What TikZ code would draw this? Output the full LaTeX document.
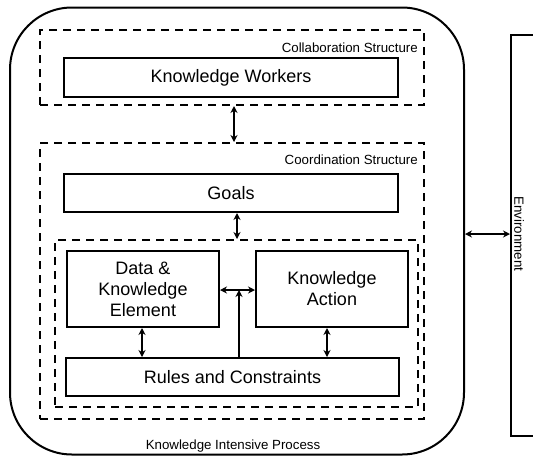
\documentclass[tikz,border=0pt]{standalone}
\usepackage{fontspec}
\setmainfont{Liberation Sans}
\usetikzlibrary{arrows.meta}
\begin{document}
\begin{tikzpicture}[x=1pt,y=-1pt,
  solidbox/.style={draw, line width=2pt, minimum width=#1, inner sep=0pt, align=center,
    font=\fontsize{18}{21}\selectfont},
  dashbox/.style={draw, line width=2pt, dash pattern=on 8pt off 6pt, inner sep=0pt},
  tag/.style={font=\fontsize{13.3}{15}\selectfont, inner sep=0pt},
  arr/.style={line width=1.3pt, {Stealth[length=7pt,width=7pt]}-{Stealth[length=7pt,width=7pt]}},
  onearr/.style={line width=1.1pt, -{Stealth[length=7pt,width=7pt]}}]
\useasboundingbox (0,0) rectangle (533,456);

% process boundary
\node[draw, line width=2pt, rounded corners=62pt, minimum width=454pt, minimum height=447pt,
  inner sep=0pt] (kip) at (237,231) {};
\node[tag, anchor=base] (kiplbl) at (233,449) {Knowledge Intensive Process};

% environment
\node[draw, line width=2pt, minimum width=40pt, minimum height=401pt, inner sep=0pt,
  anchor=north west] (env) at (510,34) {};
\node[tag, rotate=-90] (envlbl) at (519,234) {Environment};

% collaboration structure
\node[dashbox, minimum width=384pt, minimum height=75pt] (collab) at (232,67.5) {};
\node[tag, anchor=base east] (collbl) at (418,52) {Collaboration Structure};
\node[solidbox=334pt, minimum height=39pt] (kw) at (231,77.5) {Knowledge Workers};

% coordination structure
\node[dashbox, minimum width=384pt, minimum height=276pt] (coord) at (232,281) {};
\node[tag, anchor=base east] (coordlbl) at (418,164) {Coordination Structure};
\node[solidbox=334pt, minimum height=38pt] (goals) at (231,193) {Goals};

% inner group
\node[dashbox, minimum width=363pt, minimum height=167pt] (inner) at (236.5,323.5) {};
\node[solidbox=152pt, minimum height=76pt] (dke) at (143,289) {Data \&\\Knowledge\\Element};
\node[solidbox=152pt, minimum height=76pt] (ka) at (332,289) {Knowledge\\Action};
\node[solidbox=333pt, minimum height=38pt] (rules) at (232.5,377) {Rules and Constraints};

% connectors
\coordinate (xa) at (234,0);
\coordinate (xb) at (237,0);
\coordinate (xc) at (239,0);
\coordinate (xl) at (142,0);
\coordinate (xr) at (327,0);
\coordinate (ym) at (0,290);
\draw[arr] (collab.south -| xa) -- (coord.north -| xa);
\draw[arr] (goals.south -| xb) -- (inner.north -| xb);
\draw[arr] (dke.east |- ym) -- (ka.west |- ym);
\coordinate (hit) at (xc |- ym);
\draw[onearr] (rules.north -| xc) -- (hit);
\draw[arr] (dke.south -| xl) -- (rules.north -| xl);
\draw[arr] (ka.south -| xr) -- (rules.north -| xr);
\draw[arr] (kip.east |- envlbl) -- (env.west |- envlbl);
\end{tikzpicture}
\end{document}
